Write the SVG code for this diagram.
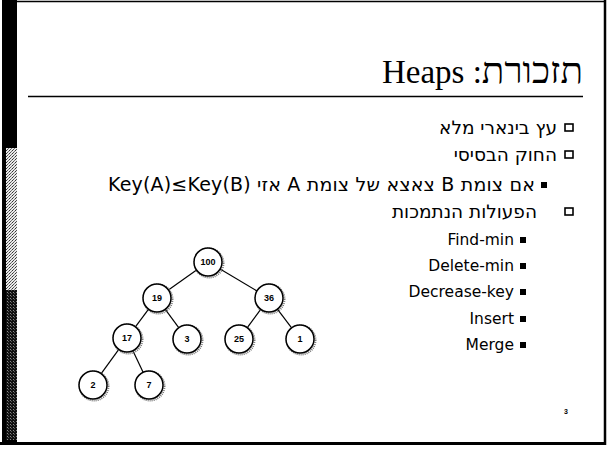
<svg xmlns="http://www.w3.org/2000/svg" width="612" height="452" viewBox="0 0 612 452">
<defs>
<pattern id="dither" width="3" height="3" patternUnits="userSpaceOnUse">
<rect width="3" height="3" fill="#e8e8e8"/>
<rect x="0" y="0" width="1" height="1" fill="#333"/>
<rect x="2" y="1" width="1" height="1" fill="#777"/>
<rect x="1" y="2" width="1" height="1" fill="#555"/>
</pattern>
<pattern id="darkdither" width="3" height="3" patternUnits="userSpaceOnUse">
<rect width="3" height="3" fill="#111"/>
<rect x="1" y="1" width="1" height="1" fill="#888"/>
<rect x="2" y="2" width="1" height="1" fill="#555"/>
</pattern>
</defs>
<style>
.title{font-family:"Liberation Serif","DejaVu Serif",serif;font-size:33px;fill:#000}
.title .he{font-size:37px}
.body{font-family:"DejaVu Sans","Noto Sans",sans-serif;font-size:15.5px;fill:#000}
.heb{font-family:"DejaVu Sans","Noto Sans",sans-serif;font-size:18.5px;fill:#000}
.sub{font-family:"DejaVu Sans","Noto Sans",sans-serif;font-size:19px;fill:#000}
.sub .he{font-size:19px}
.hb{fill:#fff;stroke:#000;stroke-width:1.6}
.fb{fill:#000}
.node circle.c{fill:#fff;stroke:#000;stroke-width:1.5}
.node circle.sh{fill:none;stroke:#777;stroke-width:2;stroke-dasharray:1 1}
.node text{font-family:"Liberation Sans",Arial,sans-serif;font-size:9px;font-weight:bold;text-anchor:middle;fill:#000}
.edge{stroke:#000;stroke-width:1.2;fill:none}
</style>
<rect width="612" height="452" fill="#fff"/>
<!-- frame -->
<rect x="2" y="0" width="15" height="444" fill="#000"/>
<rect x="6" y="148" width="11" height="142" fill="url(#dither)"/>
<rect x="6" y="290" width="11" height="150" fill="url(#darkdither)"/>
<line x1="17" y1="1.5" x2="606" y2="1.5" stroke="#000" stroke-width="1.5"/>
<line x1="605" y1="0" x2="605" y2="445" stroke="#000" stroke-width="2.5"/>
<line x1="0" y1="443.5" x2="606" y2="443.5" stroke="#000" stroke-width="3"/>
<!-- title -->
<text class="title" x="583" y="83" direction="rtl" text-anchor="start"><tspan class="he">תזכורת</tspan>: Heaps</text>
<line x1="28" y1="96.5" x2="583" y2="96.5" stroke="#000" stroke-width="1.5"/>
<!-- bullets -->
<g id="bullets">
<rect class="hb" x="565" y="124" width="8" height="7"/>
<text class="heb" x="557" y="134" direction="rtl" text-anchor="start">עץ בינארי מלא</text>
<rect class="hb" x="565" y="151" width="8" height="7"/>
<text class="heb" x="557" y="161" direction="rtl" text-anchor="start">החוק הבסיסי</text>
<rect class="fb" x="541" y="182" width="6" height="6"/>
<text class="sub" x="535" y="191" direction="rtl" text-anchor="start" textLength="427" lengthAdjust="spacing"><tspan class="he">אם צומת</tspan> B <tspan class="he">צאצא של צומת</tspan> A <tspan class="he">אזי</tspan> Key(A)≤Key(B)</text>
<rect class="hb" x="565" y="208" width="8" height="7"/>
<text class="heb" x="537" y="218" direction="rtl" text-anchor="start">הפעולות הנתמכות</text>
<rect class="fb" x="520" y="237" width="6" height="6"/>
<text class="body" x="514" y="245" text-anchor="end">Find-min</text>
<rect class="fb" x="520" y="263" width="6" height="6"/>
<text class="body" x="514" y="271" text-anchor="end">Delete-min</text>
<rect class="fb" x="520" y="289" width="6" height="6"/>
<text class="body" x="514" y="297" text-anchor="end">Decrease-key</text>
<rect class="fb" x="520" y="316" width="6" height="6"/>
<text class="body" x="514" y="324" text-anchor="end">Insert</text>
<rect class="fb" x="520" y="342" width="6" height="6"/>
<text class="body" x="514" y="350" text-anchor="end">Merge</text>
</g>
<text x="566" y="414" font-family="Liberation Sans, Arial, sans-serif" font-size="7" font-weight="bold" text-anchor="middle">3</text>
<!-- connectors -->
<g id="edges">
<line class="edge" x1="196.6" y1="270.1" x2="168.4" y2="289.9"/>
<line class="edge" x1="220.1" y1="269.1" x2="256.9" y2="290.9"/>
<line class="edge" x1="148.6" y1="309.2" x2="135.4" y2="326.8"/>
<line class="edge" x1="165.3" y1="309.3" x2="178.7" y2="327.7"/>
<line class="edge" x1="260.7" y1="309.3" x2="247.3" y2="327.7"/>
<line class="edge" x1="277.4" y1="309.2" x2="291.6" y2="327.8"/>
<line class="edge" x1="118.8" y1="349.3" x2="101.2" y2="373.7"/>
<line class="edge" x1="132.9" y1="350.7" x2="143.1" y2="372.3"/>
</g>
<!-- nodes -->
<g id="n100" class="node"><circle class="sh" cx="209" cy="263" r="14.5"/><circle class="c" cx="208" cy="262" r="14"/><text x="208" y="265">100</text></g>
<g id="n19" class="node"><circle class="sh" cx="158" cy="299" r="14.5"/><circle class="c" cx="157" cy="298" r="14"/><text x="157" y="301">19</text></g>
<g id="n36" class="node"><circle class="sh" cx="270" cy="299" r="14.5"/><circle class="c" cx="269" cy="298" r="14"/><text x="269" y="301">36</text></g>
<g id="n17" class="node"><circle class="sh" cx="128" cy="339" r="14.5"/><circle class="c" cx="127" cy="338" r="14"/><text x="127" y="341">17</text></g>
<g id="n3" class="node"><circle class="sh" cx="188" cy="340" r="14.5"/><circle class="c" cx="187" cy="339" r="14"/><text x="187" y="342">3</text></g>
<g id="n25" class="node"><circle class="sh" cx="240" cy="340" r="14.5"/><circle class="c" cx="239" cy="339" r="14"/><text x="239" y="342">25</text></g>
<g id="n1" class="node"><circle class="sh" cx="301" cy="340" r="14.5"/><circle class="c" cx="300" cy="339" r="14"/><text x="300" y="342">1</text></g>
<g id="n2" class="node"><circle class="sh" cx="94" cy="386" r="14.5"/><circle class="c" cx="93" cy="385" r="14"/><text x="93" y="388">2</text></g>
<g id="n7" class="node"><circle class="sh" cx="150" cy="386" r="14.5"/><circle class="c" cx="149" cy="385" r="14"/><text x="149" y="388">7</text></g>
</svg>
